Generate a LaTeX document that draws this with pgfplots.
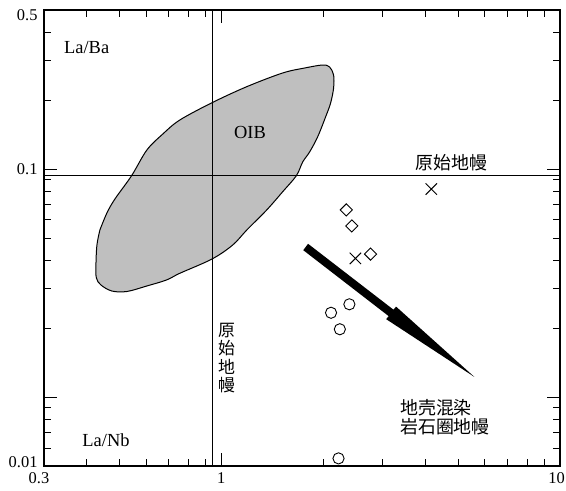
\documentclass[border=0pt]{standalone}
\usepackage{fontspec}
\setmainfont{Liberation Serif}
\newfontfamily\cjk{Noto Sans CJK SC}
\newcommand\tl{\rmfamily\fontsize{16.5}{16.5}\selectfont}
\newcommand\shiftlab[2]{\vphantom{0}\smash{\raisebox{#1}{#2}}}
\usepackage{pgfplots}
\pgfplotsset{compat=1.18}

\begin{document}
\begin{tikzpicture}
\begin{axis}[
    xmode=log, ymode=log,
    scale only axis,
    width=516bp, height=456bp,
    xmin=0.3, xmax=10,
    ymin=0.005, ymax=0.5,
    xtick={1}, xticklabels={\tl 1},
    ytick={0.01,0.1}, yticklabels={,\tl 0.1},
    minor xtick={0.4,0.5,0.6,0.7,0.8,0.9,2,3,4,5,6,7,8,9},
    minor ytick={0.006,0.007,0.008,0.009,0.02,0.03,0.04,0.05,0.06,0.07,0.08,0.09,0.2,0.3,0.4},
    extra x ticks={0.3,10}, extra x tick labels={\tl 0.3\kern10bp,\tl 10\kern7bp},
    extra y ticks={0.005,0.5},
    extra y tick labels={\tl\shiftlab{4bp}{0.01},\tl\shiftlab{-5bp}{0.5}},
    extra tick style={major tick length=0pt},
    major tick length=13bp, minor tick length=7bp,
    tick style={black, line width=0.9bp},
    axis line style={line width=1.4bp},
    every tick label/.append style={font=\tl},
    xticklabel style={yshift=-3bp},
    yticklabel style={xshift=-3bp},
]
\coordinate (sw) at (rel axis cs:0,0);
\coordinate (ne) at (rel axis cs:1,1);

% OIB field
\addplot[fill=black!25, draw=black, line width=1bp, smooth, tension=0.55] coordinates {
    (0.4386,0.05421) (0.4600,0.06435) (0.4857,0.07413) (0.5440,0.0938)
    (0.6036,0.1216) (0.6726,0.1429) (0.7550,0.1646) (0.9400,0.1961)
    (1.190,0.2305) (1.519,0.2647) (1.763,0.2783) (1.992,0.2869)
    (2.089,0.2812) (2.147,0.2594) (2.147,0.2275) (2.104,0.1955)
    (2.033,0.1697) (1.926,0.1387) (1.824,0.1192) (1.740,0.1077)
    (1.667,0.0938) (1.519,0.0798) (1.362,0.0663) (1.190,0.0542)
    (1.082,0.0466) (0.940,0.04045) (0.755,0.03501) (0.6896,0.03272)
    (0.6036,0.0308) (0.5268,0.02913) (0.4759,0.02927) (0.4417,0.03111)
    (0.4283,0.03339) (0.4270,0.03807) (0.4299,0.0466) (0.4386,0.05421)
} --cycle;

% primitive mantle reference lines
\addplot[black, line width=0.8bp] coordinates {(0.3,0.094) (10,0.094)};
\addplot[black, line width=0.8bp] coordinates {(0.94,0.005) (0.94,0.5)};

% arrow
\addplot[fill=black, draw=none] coordinates {
    (1.805,0.04716) (3.226,0.02424) (3.282,0.02501) (5.59,0.01229)
    (3.069,0.02203) (3.121,0.02272) (1.747,0.04421)
} --cycle;

% samples
\addplot[only marks, mark=x, mark size=8bp, black, line width=1bp]
    coordinates {(4.17,0.082) (2.49,0.0407)};
\addplot[only marks, mark=square, black, mark size=4.3bp, line width=0.9bp,
    mark options={rotate=45, fill=white}]
    coordinates {(2.34,0.0664) (2.43,0.0565) (2.76,0.0425)};
\addplot[only marks, mark=o, black, mark size=5.6bp, line width=0.9bp,
    mark options={fill=white}]
    coordinates {(2.11,0.0235) (2.39,0.0256) (2.24,0.0199) (2.22,0.0054)};

\node[font=\rmfamily\fontsize{18.5}{20}\selectfont] at (rel axis cs:0.0827,0.9167) {La/Ba};
\node[font=\rmfamily\fontsize{18.5}{20}\selectfont] at (rel axis cs:0.3992,0.7309) {OIB};
\node[font=\rmfamily\fontsize{18.5}{20}\selectfont] at (rel axis cs:0.1202,0.0570) {La/Nb};
\node[font=\cjk\fontsize{18}{18}\selectfont] at (rel axis cs:0.7893,0.6660) {原始地幔};
\node[font=\cjk\fontsize{17}{18.7}\selectfont, align=center, inner sep=0pt]
    at (rel axis cs:0.3541,0.2368) {原\\始\\地\\幔};
\node[font=\cjk\fontsize{18}{19}\selectfont, anchor=west, align=left, inner sep=0pt]
    at (rel axis cs:0.6899,0.1064) {地壳混染\\岩石圈地幔};
\end{axis}
\pgfresetboundingbox
\useasboundingbox ([shift={(-44bp,-25bp)}]sw) rectangle ([shift={(6bp,10bp)}]ne);
\end{tikzpicture}
\end{document}
